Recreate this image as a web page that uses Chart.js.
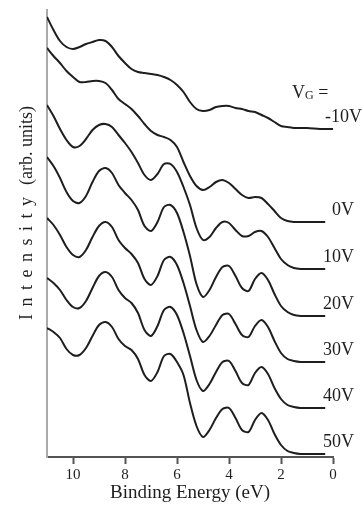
<!DOCTYPE html>
<html>
<head>
<meta charset="utf-8">
<script src="https://cdn.jsdelivr.net/npm/chart.js@4.4.0/dist/chart.umd.min.js"></script>
<style>
  html, body { margin: 0; padding: 0; background: #fff; }
  canvas { display: block; }
</style>
</head>
<body>
<canvas id="xps" width="363" height="506"></canvas>
<script>
// binding energy grid (eV)
const energies = [11, 10.75, 10.5, 10.25, 10, 9.75, 9.5, 9.25, 9, 8.75, 8.5, 8.25, 8, 7.75, 7.5, 7.25, 7,
  6.75, 6.5, 6.25, 6, 5.75, 5.5, 5.25, 5, 4.75, 4.5, 4.25, 4, 3.75, 3.5, 3.25, 3, 2.75, 2.5, 2.25, 2,
  1.75, 1.5, 1.25, 1, 0.5, 0.3, 0];

const gateLabels = ['-10V', '0V', '10V', '20V', '30V', '40V', '50V'];

// intensities (arb. units), curves already offset as in the figure
const vgMinus10 = [440, 427, 416, 410, 408, 410, 413, 415, 417, 416, 410, 401, 394, 388, 385, 384, 383,
  382, 380, 377, 372, 365, 355, 348, 346, 347, 350, 351, 351, 349, 348, 346, 345, 342, 339, 335, 331,
  330, 329, 329, 329, 328, 328, 328];
const vg0 = [409, 401, 394, 386, 380, 375, 375, 376, 376, 374, 367, 358, 353, 348, 341, 333, 326,
  322, 320, 317, 310, 295, 281, 271, 267, 270, 275, 277, 274, 268, 262, 259, 260, 259, 253, 246, 239,
  236, 235, 235, 235, 235, 235, null];
const vg10 = [352, 341, 328, 317, 310, 311, 318, 327, 332, 333, 330, 322, 314, 305, 294, 282, 277,
  283, 293, 293, 285, 270, 252, 229, 217, 220, 229, 235, 234, 227, 221, 221, 225, 226, 220, 209, 198,
  192, 189, 188, 188, 188, 188, null];
const vg20 = [300, 291, 279, 265, 256, 254, 261, 275, 286, 289, 284, 272, 264, 257, 247, 231, 226,
  235, 250, 252, 244, 225, 201, 173, 160, 167, 180, 190, 191, 181, 169, 166, 178, 184, 177, 163, 151,
  145, 142, 141, 141, 141, 141, null];
const vg30 = [239, 232, 222, 210, 202, 200, 207, 220, 231, 235, 230, 217, 209, 203, 194, 178, 172,
  181, 197, 200, 192, 174, 151, 127, 115, 121, 132, 142, 143, 133, 122, 120, 131, 137, 130, 116, 104,
  98, 96, 95, 95, 95, 95, null];
const vg40 = [179, 174, 167, 157, 150, 149, 156, 169, 181, 185, 180, 167, 159, 154, 144, 127, 121,
  131, 147, 150, 142, 124, 101, 77, 66, 73, 85, 95, 96, 86, 74, 72, 84, 90, 83, 69, 58,
  52, 50, 49, 49, 49, 49, null];
const vg50 = [129, 125, 119, 108, 102, 102, 109, 121, 132, 135, 130, 118, 111, 107, 98, 82, 76,
  85, 101, 103, 95, 82, 54, 31, 20, 27, 39, 48, 49, 39, 27, 25, 37, 44, 37, 23, 12,
  6, 4, 3, 3, 3, 3, null];

const xTicks = [0, 2, 4, 6, 8, 10];

const serif = '"Liberation Serif", "Times New Roman", serif';
const ink = '#1e1e1e';

const series = [vgMinus10, vg0, vg10, vg20, vg30, vg40, vg50];

const toPoints = (vals) => energies
  .map((e, i) => ({ x: e, y: vals[i] }))
  .filter(p => p.y !== null);

// y title, "Intensity" is letter-spaced in the original
const yTitle = {
  id: 'yTitle',
  afterDraw(chart) {
    const { ctx, chartArea } = chart;
    ctx.save();
    ctx.font = '18px ' + serif;
    ctx.fillStyle = ink;
    ctx.textBaseline = 'middle';
    ctx.translate(chartArea.left - 20, chartArea.top + 203);
    ctx.rotate(-Math.PI / 2);
    const word = 'Intensity';
    const rest = ' (arb. units)';
    const gap = 7.5;
    let w = 0;
    for (const c of word) w += ctx.measureText(c).width + gap;
    w += ctx.measureText(rest).width;
    let x = -w / 2;
    for (const c of word) {
      ctx.fillText(c, x, 0);
      x += ctx.measureText(c).width + gap;
    }
    ctx.fillText(rest, x, 0);
    ctx.restore();
  }
};

// gate voltage labels at the right end of each curve
const seriesLabels = {
  id: 'seriesLabels',
  afterDatasetsDraw(chart) {
    const { ctx, chartArea } = chart;
    ctx.save();
    ctx.fillStyle = ink;
    ctx.textBaseline = 'middle';
    chart.data.datasets.forEach((ds, i) => {
      const pts = chart.getDatasetMeta(i).data;
      const last = pts[pts.length - 1];
      ctx.font = '18px ' + serif;
      ctx.textAlign = 'right';
      const right = chartArea.right + (i === 0 ? 29 : 21);
      ctx.fillText(ds.label, right, last.y - 12);
      if (i === 0) {
        // "V_G =" above the first label
        let x = chartArea.right - 41;
        const y = last.y - 36;
        ctx.textAlign = 'left';
        ctx.fillText('V', x, y);
        x += ctx.measureText('V').width;
        ctx.font = '12px ' + serif;
        ctx.fillText('G', x, y + 3);
        x += ctx.measureText('G').width;
        ctx.font = '18px ' + serif;
        ctx.fillText(' =', x, y);
      }
    });
    ctx.restore();
  }
};

new Chart(document.getElementById('xps'), {
  type: 'line',
  data: {
    datasets: series.map((vals, i) => ({
      label: gateLabels[i],
      data: toPoints(vals),
      borderColor: ink,
      borderWidth: 2,
      pointRadius: 0,
      tension: 0.3,
      fill: false
    }))
  },
  options: {
    responsive: false,
    animation: false,
    devicePixelRatio: 1,
    layout: { padding: { left: 0, right: 30, top: 10, bottom: 0 } },
    plugins: {
      legend: { display: false },
      tooltip: { enabled: false }
    },
    scales: {
      x: {
        type: 'linear',
        reverse: true,
        min: 0,
        max: 11,
        afterFit: (s) => { s.height = 49; },
        afterBuildTicks: (s) => { s.ticks = xTicks.map(v => ({ value: v })); },
        ticks: {
          font: { family: serif, size: 15 },
          color: ink,
          padding: 2
        },
        grid: {
          drawOnChartArea: false,
          drawTicks: true,
          tickLength: 7,
          tickColor: '#555',
          tickWidth: 2
        },
        border: { color: '#555', width: 2 },
        title: {
          display: true,
          text: 'Binding Energy (eV)',
          font: { family: serif, size: 19 },
          color: ink,
          padding: { top: 0, bottom: 2 }
        }
      },
      y: {
        type: 'linear',
        min: 0,
        max: 447,
        afterFit: (s) => { s.width = 47; },
        ticks: { display: false },
        grid: { display: false, drawTicks: false },
        border: { color: '#aaa', width: 2 }
      }
    }
  },
  plugins: [yTitle, seriesLabels]
});
</script>
</body>
</html>
